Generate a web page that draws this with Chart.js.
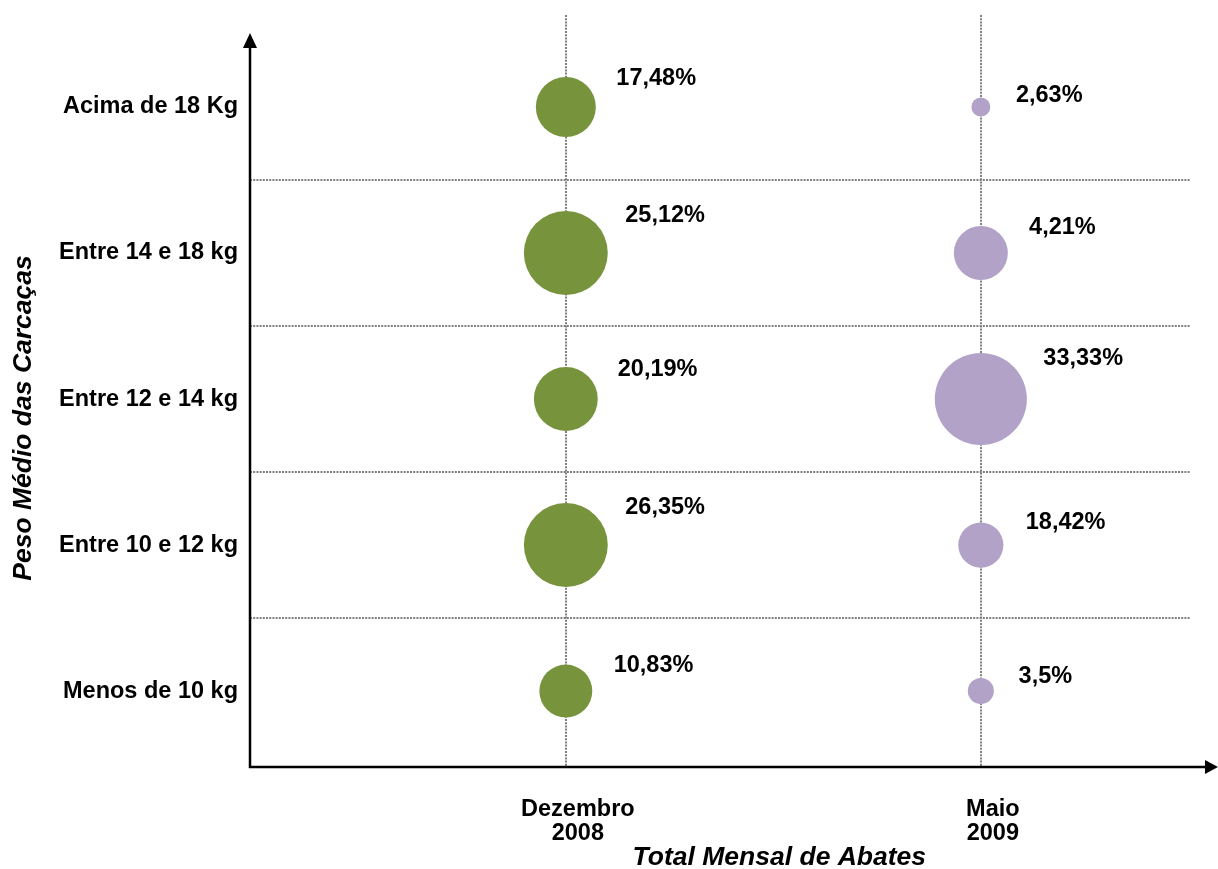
<!DOCTYPE html>
<html lang="pt-BR">
<head>
<meta charset="utf-8">
<title>Peso Médio das Carcaças</title>
<script src="https://cdn.jsdelivr.net/npm/chart.js@4.4.1/dist/chart.umd.min.js"></script>
<style>
    html, body { margin: 0; padding: 0; background: #fff; }
    #wrap { width: 1218px; height: 869px; }
</style>
</head>
<body>
<div id="wrap"><canvas id="chart" width="1218" height="869"></canvas></div>
<script>
// weight classes, bottom row first
const weightClasses = ['Menos de 10 kg', 'Entre 10 e 12 kg', 'Entre 12 e 14 kg', 'Entre 14 e 18 kg', 'Acima de 18 Kg'];
const periods = [['Dezembro', '2008'], ['Maio', '2009']];

// share of monthly slaughter per class (%)
const decShare = [10.83, 26.35, 20.19, 25.12, 17.48];
const mayShare = [3.5, 18.42, 33.33, 4.21, 2.63];

// relative bubble weight per class
const decWeight = [7.0, 17.6, 10.2, 17.6, 9.0];
const mayWeight = [1.7, 5.1, 21.2, 7.3, 0.9];

const FONT = '"Liberation Sans", Arial, sans-serif';
const GRID = '#808080';

function bubbleRadius(w) {
    return Math.sqrt(w) * 10;
}

function formatShare(v) {
    return String(v).replace('.', ',') + '%';
}

function buildPoints(period, weights) {
    return weights.map((w, i) => ({ x: period, y: i, r: bubbleRadius(w) }));
}

// no extra room for edge labels, the plot area is fixed
function noScalePadding(scale) {
    scale.paddingTop = 0;
    scale.paddingBottom = 0;
    scale.paddingLeft = 0;
    scale.paddingRight = 0;
}

// percent labels up and to the right of each bubble
const bubbleLabels = {
    id: 'bubbleLabels',
    afterDatasetsDraw(chart) {
        const ctx = chart.ctx;
        ctx.save();
        ctx.font = 'bold 23.5px ' + FONT;
        ctx.fillStyle = '#000';
        ctx.textAlign = 'left';
        ctx.textBaseline = 'middle';
        chart.data.datasets.forEach((ds, i) => {
            chart.getDatasetMeta(i).data.forEach((pt, j) => {
                const r = pt.options.radius;
                ctx.fillText(formatShare(ds.shares[j]), pt.x + 0.75 * r + 28, pt.y - 0.8 * r - 4);
            });
        });
        ctx.restore();
    }
};

// black axes with arrow heads, plus the two axis titles
const arrowAxes = {
    id: 'arrowAxes',
    afterDraw(chart) {
        const ctx = chart.ctx;
        const { left, bottom, top } = chart.chartArea;
        const w = chart.width;
        ctx.save();
        ctx.strokeStyle = '#000';
        ctx.fillStyle = '#000';
        ctx.lineWidth = 2.5;

        ctx.beginPath();
        ctx.moveTo(left, bottom + 1);
        ctx.lineTo(left, top + 30);
        ctx.moveTo(left - 1, bottom);
        ctx.lineTo(w - 10, bottom);
        ctx.stroke();

        ctx.beginPath();
        ctx.moveTo(left, top + 18);
        ctx.lineTo(left - 7, top + 33);
        ctx.lineTo(left + 7, top + 33);
        ctx.closePath();
        ctx.fill();

        ctx.beginPath();
        ctx.moveTo(w, bottom);
        ctx.lineTo(w - 13, bottom - 7);
        ctx.lineTo(w - 13, bottom + 7);
        ctx.closePath();
        ctx.fill();

        ctx.font = 'italic bold 26.5px ' + FONT;
        ctx.textAlign = 'center';
        ctx.textBaseline = 'middle';
        const xScale = chart.scales.x;
        ctx.fillText('Total Mensal de Abates', xScale.getPixelForValue(1.5) + 6, 858);

        ctx.translate(24, (top + bottom) / 2 + 27);
        ctx.rotate(-Math.PI / 2);
        ctx.fillText('Peso Médio das Carcaças', 0, 0);
        ctx.restore();
    }
};

const ctx = document.getElementById('chart').getContext('2d');
new Chart(ctx, {
    type: 'bubble',
    data: {
        datasets: [
            {
                label: 'Dezembro 2008',
                data: buildPoints(1, decWeight),
                shares: decShare,
                backgroundColor: '#77933C',
                borderWidth: 0,
                hoverBorderWidth: 0,
                hoverRadius: 0
            },
            {
                label: 'Maio 2009',
                data: buildPoints(2, mayWeight),
                shares: mayShare,
                backgroundColor: '#B3A2C7',
                borderWidth: 0,
                hoverBorderWidth: 0,
                hoverRadius: 0
            }
        ]
    },
    options: {
        responsive: false,
        animation: false,
        devicePixelRatio: 1,
        layout: { autoPadding: false, padding: { top: 15, right: 28, left: 0, bottom: 0 } },
        plugins: {
            legend: { display: false },
            tooltip: { enabled: false }
        },
        scales: {
            x: {
                type: 'linear',
                min: 0.239,
                max: 2.504,
                afterBuildTicks: scale => {
                    scale.ticks = periods.map((_, i) => ({ value: i + 1 }));
                },
                afterFit: scale => {
                    scale.height = 102;
                    noScalePadding(scale);
                },
                ticks: {
                    autoSkip: false,
                    padding: 30,
                    labelOffset: 12,
                    color: '#000',
                    font: { family: FONT, size: 23.5, weight: 'bold', lineHeight: 1.05 },
                    callback: value => periods[value - 1]
                },
                grid: {
                    color: GRID,
                    lineWidth: 2,
                    drawTicks: false
                },
                border: { display: false, dash: [2, 1.2] }
            },
            y: {
                type: 'linear',
                min: -0.52,
                max: 4.63,
                afterBuildTicks: scale => {
                    const t = [];
                    for (let v = 0; v <= 4; v += 0.5) t.push({ value: v });
                    scale.ticks = t;
                },
                afterFit: scale => {
                    scale.width = 250;
                    noScalePadding(scale);
                },
                ticks: {
                    autoSkip: false,
                    padding: 12,
                    color: '#000',
                    font: { family: FONT, size: 23.5, weight: 'bold' },
                    callback: value => Number.isInteger(value) ? weightClasses[value] : ''
                },
                grid: {
                    color: c => (c.tick && c.tick.value % 1 !== 0) ? GRID : 'rgba(0,0,0,0)',
                    lineWidth: 2,
                    drawTicks: false
                },
                border: { display: false, dash: [2, 1.2] }
            }
        }
    },
    plugins: [bubbleLabels, arrowAxes]
});
</script>
</body>
</html>
